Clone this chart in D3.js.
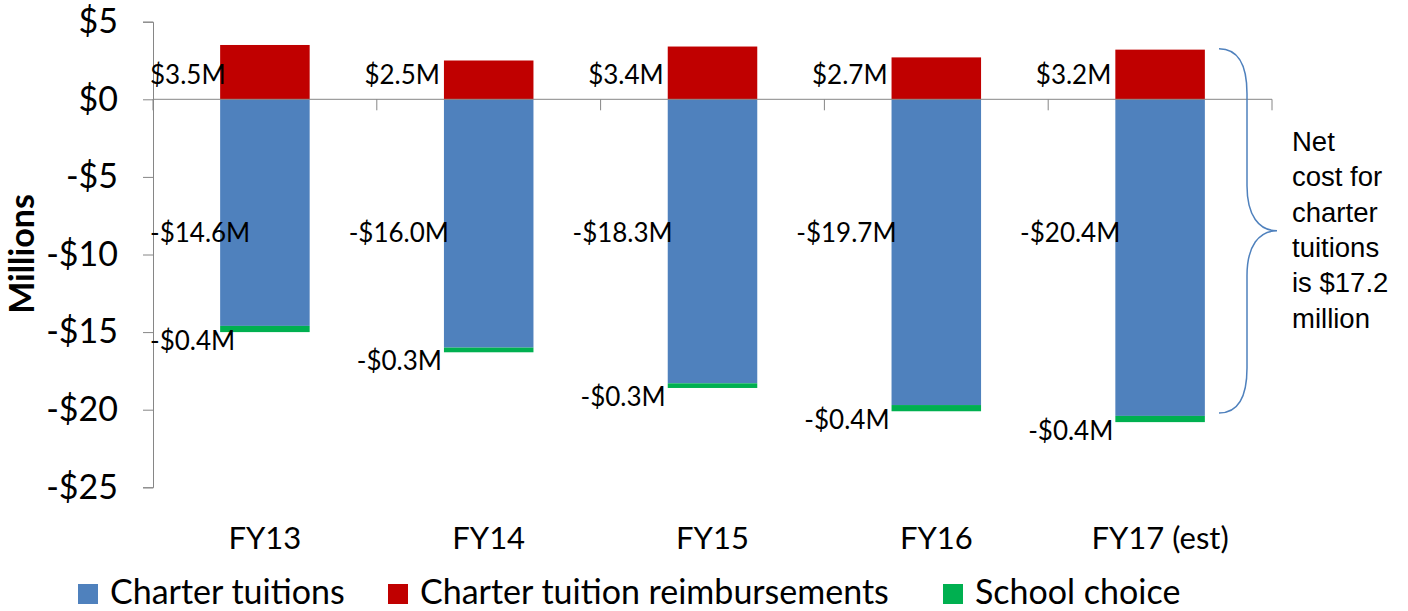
<!DOCTYPE html>
<html lang="en">
<head>
<meta charset="UTF-8">
<title>Charter tuition costs</title>
<script src="https://d3js.org/d3.v7.min.js"></script>
<style>
  body { margin: 0; background: #fff; }
  svg { display: block; }
  text { font-family: Lato, "Open Sans", sans-serif; fill: #000; }
</style>
</head>
<body>
<script>
// data, in millions of dollars
var years = ["FY13", "FY14", "FY15", "FY16", "FY17 (est)"];
var tuitions = [-14.6, -16.0, -18.3, -19.7, -20.4];
var reimbursements = [3.5, 2.5, 3.4, 2.7, 3.2];
var schoolChoice = [-0.4, -0.3, -0.3, -0.4, -0.4];
var yTicks = [5, 0, -5, -10, -15, -20, -25];
var seriesNames = ["Charter tuitions", "Charter tuition reimbursements", "School choice"];
var colors = ["#4F81BD", "#C00000", "#00B050"];
var noteLines = ["Net", "cost for", "charter", "tuitions", "is $17.2", "million"];

var w = 1408, h = 611;
var svg = d3.select("body").append("svg")
    .attr("width", w)
    .attr("height", h);

var x = d3.scaleBand()
    .domain(years)
    .range([153, 1272])
    .paddingInner(0.6)
    .paddingOuter(0.3);

var y = d3.scaleLinear()
    .domain([-25, 5])
    .range([487.3, 21.7]);

var fmt = function(v) {
  return (v < 0 ? "-$" : "$") + Math.abs(v).toFixed(1) + "M";
};

// y axis
var yAxis = svg.append("g")
    .attr("transform", "translate(153,0)")
    .call(d3.axisLeft(y).tickValues(yTicks).tickSize(10).tickPadding(25)
      .tickFormat(function(d) { return (d < 0 ? "-$" : "$") + Math.abs(d); }));
yAxis.select(".domain").attr("stroke", "#868686");
yAxis.selectAll(".tick line").attr("stroke", "#868686");
yAxis.selectAll(".tick text")
    .style("font-family", "Lato, sans-serif")
    .style("font-size", "34px")
    .attr("fill", "#000");

// axis title
svg.append("text")
    .attr("transform", "translate(34,254) rotate(-90)")
    .attr("text-anchor", "middle")
    .style("font-size", "34px")
    .style("font-weight", "bold")
    .text("Millions");

// stacked bars: positive reimbursements up, tuitions and school choice down
var rows = years.map(function(d, i) {
  return { year: d, t: tuitions[i], r: reimbursements[i], s: schoolChoice[i] };
});

var bars = svg.selectAll("g.bar")
    .data(rows)
    .enter()
    .append("g")
    .attr("class", "bar");

bars.append("rect")
    .attr("x", function(d) { return x(d.year); })
    .attr("width", x.bandwidth())
    .attr("y", function(d) { return y(0); })
    .attr("height", function(d) { return y(d.t) - y(0); })
    .attr("fill", colors[0]);

bars.append("rect")
    .attr("x", function(d) { return x(d.year); })
    .attr("width", x.bandwidth())
    .attr("y", function(d) { return y(d.t); })
    .attr("height", function(d) { return y(d.t + d.s) - y(d.t); })
    .attr("fill", colors[2]);

bars.append("rect")
    .attr("x", function(d) { return x(d.year); })
    .attr("width", x.bandwidth())
    .attr("y", function(d) { return y(d.r); })
    .attr("height", function(d) { return y(0) - y(d.r); })
    .attr("fill", colors[1]);

// zero line with category ticks
svg.append("line")
    .attr("x1", 153).attr("x2", 1272)
    .attr("y1", y(0)).attr("y2", y(0))
    .attr("stroke", "#868686");
svg.selectAll("line.cat")
    .data(years.concat([null]))
    .enter()
    .append("line")
    .attr("class", "cat")
    .attr("x1", function(d, i) { return 153 + i * x.step(); })
    .attr("x2", function(d, i) { return 153 + i * x.step(); })
    .attr("y1", y(0)).attr("y2", y(0) + 11)
    .attr("stroke", "#868686");

// data labels, kept clear of the y axis
function placeLabel(sel, offset) {
  sel.each(function(d) {
    var t = d3.select(this);
    var len = this.getComputedTextLength();
    var end = x(d.year) + offset;
    if (end - len < 150) end = 150 + len;
    t.attr("x", end);
  });
}

bars.append("text")
    .attr("text-anchor", "end")
    .attr("y", y(1.6))
    .attr("dy", "0.35em")
    .style("font-size", "26px")
    .text(function(d) { return fmt(d.r); })
    .call(placeLabel, -4);

bars.append("text")
    .attr("text-anchor", "end")
    .attr("y", y(-8.6))
    .attr("dy", "0.35em")
    .style("font-size", "26px")
    .text(function(d) { return fmt(d.t); })
    .call(placeLabel, 5);

bars.append("text")
    .attr("text-anchor", "end")
    .attr("y", function(d) { return y(d.t + d.s) + 9; })
    .attr("dy", "0.35em")
    .style("font-size", "26px")
    .text(function(d) { return fmt(d.s); })
    .call(placeLabel, -2);

// category labels
svg.selectAll("text.year")
    .data(years)
    .enter()
    .append("text")
    .attr("class", "year")
    .attr("x", function(d) { return x(d) + x.bandwidth() / 2; })
    .attr("y", 549)
    .attr("text-anchor", "middle")
    .style("font-size", "31px")
    .text(function(d) { return d; });

// brace over the FY17 bar
var bx = 1219, bTop = y(3.2) - 1, bBot = y(-20.4) - 3, bMid = (bTop + bBot) / 2;
svg.append("path")
    .attr("d", "M" + bx + "," + bTop +
      " C" + (bx + 22) + "," + bTop + " " + (bx + 28) + "," + (bTop + 20) + " " + (bx + 28) + "," + (bTop + 45) +
      " L" + (bx + 28) + "," + (bMid - 45) +
      " C" + (bx + 28) + "," + (bMid - 15) + " " + (bx + 40) + "," + bMid + " " + (bx + 58) + "," + bMid +
      " C" + (bx + 40) + "," + bMid + " " + (bx + 28) + "," + (bMid + 15) + " " + (bx + 28) + "," + (bMid + 45) +
      " L" + (bx + 28) + "," + (bBot - 45) +
      " C" + (bx + 28) + "," + (bBot - 20) + " " + (bx + 22) + "," + bBot + " " + bx + "," + bBot)
    .attr("fill", "none")
    .attr("stroke", "#4F81BD")
    .attr("stroke-width", 1.5);

svg.append("g").selectAll("text")
    .data(noteLines)
    .enter()
    .append("text")
    .attr("x", 1292)
    .attr("y", function(d, i) { return 151 + i * 35.3; })
    .style("font-family", "'Liberation Sans', Arial, sans-serif")
    .style("font-size", "27.5px")
    .text(function(d) { return d; });

// legend
var legendX = [78, 388, 943];
var legend = svg.selectAll("g.legend")
    .data(seriesNames)
    .enter()
    .append("g")
    .attr("class", "legend")
    .attr("transform", function(d, i) { return "translate(" + legendX[i] + ",584)"; });

legend.append("rect")
    .attr("width", 20)
    .attr("height", 20)
    .attr("fill", function(d, i) { return colors[i]; });

legend.append("text")
    .attr("x", 32)
    .attr("y", 20)
    .style("font-size", "34px")
    .text(function(d) { return d; });
</script>
</body>
</html>
